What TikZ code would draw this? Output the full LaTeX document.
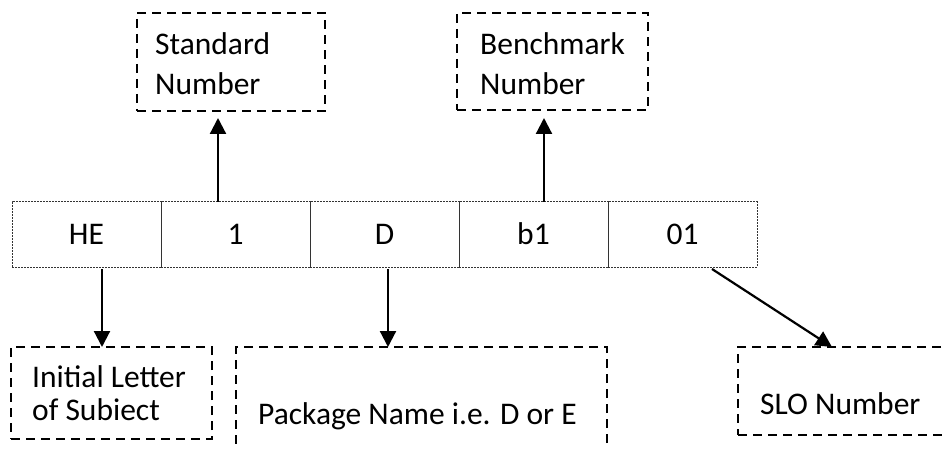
\documentclass[tikz,border=0pt]{standalone}
\usepackage{fontspec}
\setmainfont{Carlito}
\usetikzlibrary{arrows.meta}
\begin{document}
\begin{tikzpicture}[x=1pt,y=-1pt,
  dbox/.style={draw, dash pattern=on 9pt off 6pt, line width=1.4pt, inner sep=0pt, outer sep=0pt, anchor=north west},
  cell/.style={draw=black!80, dash pattern=on 2pt off 1pt, line width=1pt, minimum width=149pt, minimum height=65pt, inner sep=0pt, outer sep=0pt, anchor=north west, text height=20pt, text depth=0pt, font=\fontsize{31.5}{38}\selectfont},
  lbl/.style={anchor=base west, inner sep=0pt, font=\fontsize{31.5}{38}\selectfont},
  arr/.style={line width=2.2pt, -{Triangle[length=16pt,width=16pt]}}]
\useasboundingbox (0,0) rectangle (945,449);
% main row
\node[cell] (he)  at (12,202)  {HE};
\node[cell] (one) at (161,202) {1};
\node[cell] (d)   at (310,202) {D};
\node[cell] (b)   at (459,202) {b1};
\node[cell] (o)   at (608,202) {01};
% dashed boxes
\node[dbox, minimum width=188pt, minimum height=98pt] (std) at (137,13) {};
\node[dbox, minimum width=191pt, minimum height=97pt] (bm)  at (457,13) {};
\node[dbox, minimum width=201pt, minimum height=92pt] (ini) at (11,347) {};
\node[dbox, minimum width=371pt, minimum height=130pt] (pkg) at (236,347) {};
\node[dbox, minimum width=230pt, minimum height=88pt] (slo) at (738,347) {};
% labels
\node[lbl] (stdA) at (155,55) {Standard};
\node[lbl] (stdB) at (155,95) {Number};
\node[lbl] (bmA)  at (480,55) {Benchmark};
\node[lbl] (bmB)  at (480,95) {Number};
\node[lbl] (iniA) at (32,387) {Initial Letter};
\node[lbl] (iniB) at (32,420) {of Subiect};
\node[lbl] (pkgA) at (258,424) {Package Name i.e. D or E};
\node[lbl] (sloA) at (760,414) {SLO Number};
% arrows
\coordinate (s1) at ([xshift=-17.5pt]one.north);
\draw[arr, shorten >=7pt] (s1) -- (s1 |- std.south);
\coordinate (s2) at ([xshift=10.5pt]b.north);
\draw[arr, shorten >=8pt] (s2) -- (s2 |- bm.south);
\coordinate (s3) at ([xshift=15.5pt,yshift=-2pt]he.south);
\draw[arr] (s3) -- (s3 |- ini.north);
\coordinate (s4) at ([xshift=3.5pt,yshift=-2pt]d.south);
\draw[arr] (s4) -- (s4 |- pkg.north);
\coordinate (s5) at ([xshift=29.5pt,yshift=-2pt]o.south);
\coordinate (t5) at ([xshift=94pt]slo.north west);
\draw[arr] (s5) -- (t5);
\end{tikzpicture}
\end{document}
